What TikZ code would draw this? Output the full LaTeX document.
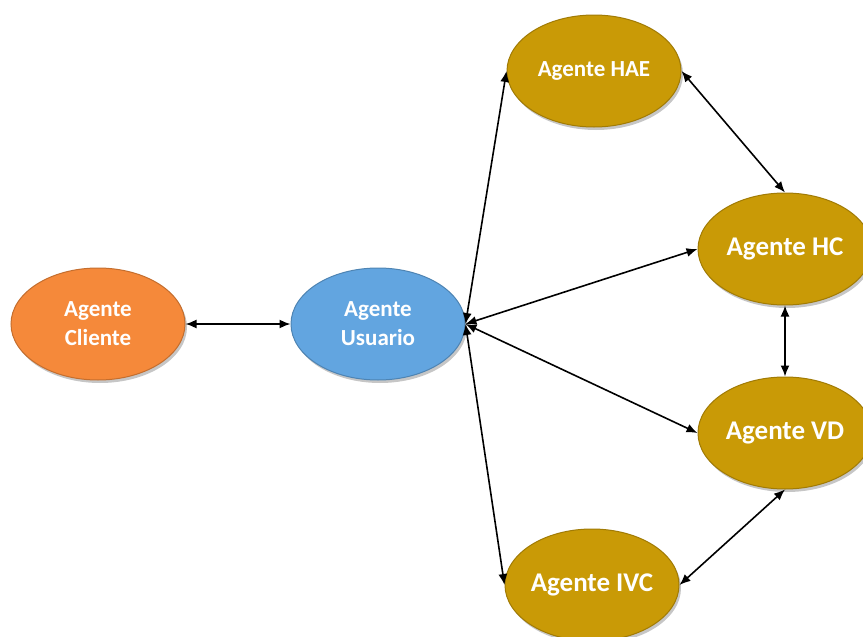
\documentclass[tikz,border=0pt]{standalone}
\usepackage{fontspec}
\setmainfont{Carlito}
\usetikzlibrary{shapes.geometric,shadows,arrows.meta}

\definecolor{cliente}{RGB}{245,137,58}
\definecolor{usuario}{RGB}{98,165,224}
\definecolor{oro}{RGB}{201,154,6}

\tikzset{
    agente/.style={ellipse, minimum width=174pt, minimum height=112pt, inner sep=0pt,
        draw=#1!80!black, line width=1pt, fill=#1, text=white, align=center,
        font=\bfseries\fontsize{23}{29}\selectfont,
        drop shadow={shadow xshift=2pt, shadow yshift=-3pt, opacity=0.45}},
    grande/.style={font=\bfseries\fontsize{27}{32}\selectfont},
    enlace/.style={{Latex[length=11pt,width=9pt]}-{Latex[length=11pt,width=9pt]}, line width=1.6pt, black}
}

\begin{document}
\begin{tikzpicture}[x=1pt, y=-1pt]
    \useasboundingbox (0,0) rectangle (863,637);
    \clip (0,0) rectangle (863,637);
    \node[agente=cliente] (cli) at (98,324) {Agente\\Cliente};
    \node[agente=usuario] (usu) at (378,324) {Agente\\Usuario};
    \node[agente=oro] (hae) at (594,71) {Agente HAE};
    \node[agente=oro, grande] (hc) at (785,249) {Agente HC};
    \node[agente=oro, grande] (vd) at (785,433) {Agente VD};
    \node[agente=oro, grande] (ivc) at (592,585) {Agente IVC};
    \draw[enlace] (cli.east) -- (usu.west);
    \draw[enlace] (usu.east) -- (hae.west);
    \draw[enlace] (usu.east) -- (hc.west);
    \draw[enlace] (usu.east) -- (vd.west);
    \draw[enlace] (usu.east) -- (ivc.west);
    \draw[enlace] (hae.east) -- (hc.north);
    \draw[enlace] (hc.south) -- (vd.north);
    \draw[enlace] (vd.south) -- (ivc.east);
\end{tikzpicture}
\end{document}
